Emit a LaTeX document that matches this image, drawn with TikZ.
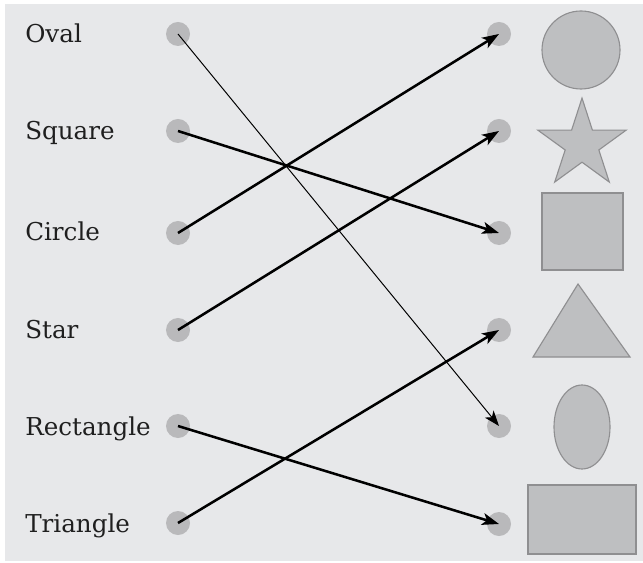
\documentclass[tikz,border=0pt]{standalone}
\usepackage{fontspec}
\setmainfont{DejaVu Serif}
\usepackage{tikz}
\usetikzlibrary{arrows.meta}
\definecolor{panelgrey}{HTML}{E7E8EA}
\definecolor{dotgrey}{HTML}{B9B9BB}
\definecolor{shapegrey}{HTML}{BEBFC1}
\definecolor{edgegrey}{HTML}{8F8F91}
\tikzset{
	dot/.style={circle, fill=dotgrey, inner sep=0pt, minimum size=0.6cm},
	word/.style={anchor=base west, inner sep=0pt, text=black!88, font=\fontsize{17.5}{20}\selectfont},
	figure/.style={fill=shapegrey, draw=edgegrey, line width=0.8pt},
	thinlink/.style={line width=0.7pt, -{Stealth[length=11pt, width=8pt, inset=3pt]}},
	thicklink/.style={line width=1.8pt, -{Stealth[length=12pt, width=8.5pt, inset=3pt]}}
}

\begin{document}
\begin{tikzpicture}[x=0.025cm, y=-0.025cm]
			%%%%% START %%%%%
			\useasboundingbox (0, 0) rectangle (643, 563);
			\fill[panelgrey] (5, 4) rectangle (643, 561);
			
			% names on the left
			\node[word] (wOval) at (25, 43) {Oval};
			\node[word] (wSquare) at (25, 140) {Square};
			\node[word] (wCircle) at (25, 241) {Circle};
			\node[word] (wStar) at (25, 338) {Star};
			\node[word] (wRect) at (25, 435) {Rectangle};
			\node[word] (wTri) at (25, 532) {Triangle};
			
			% dots
			\node[dot] (l1) at (178, 34) {};
			\node[dot] (l2) at (178, 131) {};
			\node[dot] (l3) at (178, 233) {};
			\node[dot] (l4) at (178, 330) {};
			\node[dot] (l5) at (178, 426) {};
			\node[dot] (l6) at (178, 523) {};
			
			\node[dot] (r1) at (499, 34) {};
			\node[dot] (r2) at (499, 131) {};
			\node[dot] (r3) at (499, 233) {};
			\node[dot] (r4) at (499, 330) {};
			\node[dot] (r5) at (499, 426) {};
			\node[dot] (r6) at (499, 524) {};
			
			% shapes on the right
			\draw[figure] (581, 50) circle (39);
			\draw[figure] plot[samples at={0,...,9}, variable=\k]
				({582 + (mod(\k,2)==0 ? 46.4 : 17.7)*cos(90 + 36*\k)},
				 {144.5 - (mod(\k,2)==0 ? 46.4 : 17.7)*sin(90 + 36*\k)}) -- cycle;
			\draw[figure] (542, 193) rectangle (623, 270);
			\draw[figure] (578, 284) -- (630, 357) -- (533, 357) -- cycle;
			\draw[figure] (582, 427) ellipse (28 and 42);
			\draw[figure] (528, 485) rectangle (636, 554);
			
			% links
			\draw[thinlink] (l1.center) -- (r5.center);
			\draw[thicklink] (l2.center) -- (r3.center);
			\draw[thicklink] (l3.center) -- (r1.center);
			\draw[thicklink] (l4.center) -- (r2.center);
			\draw[thicklink] (l5.center) -- (r6.center);
			\draw[thicklink] (l6.center) -- (r4.center);
			%%%%% END %%%%%
\end{tikzpicture}
\end{document}
